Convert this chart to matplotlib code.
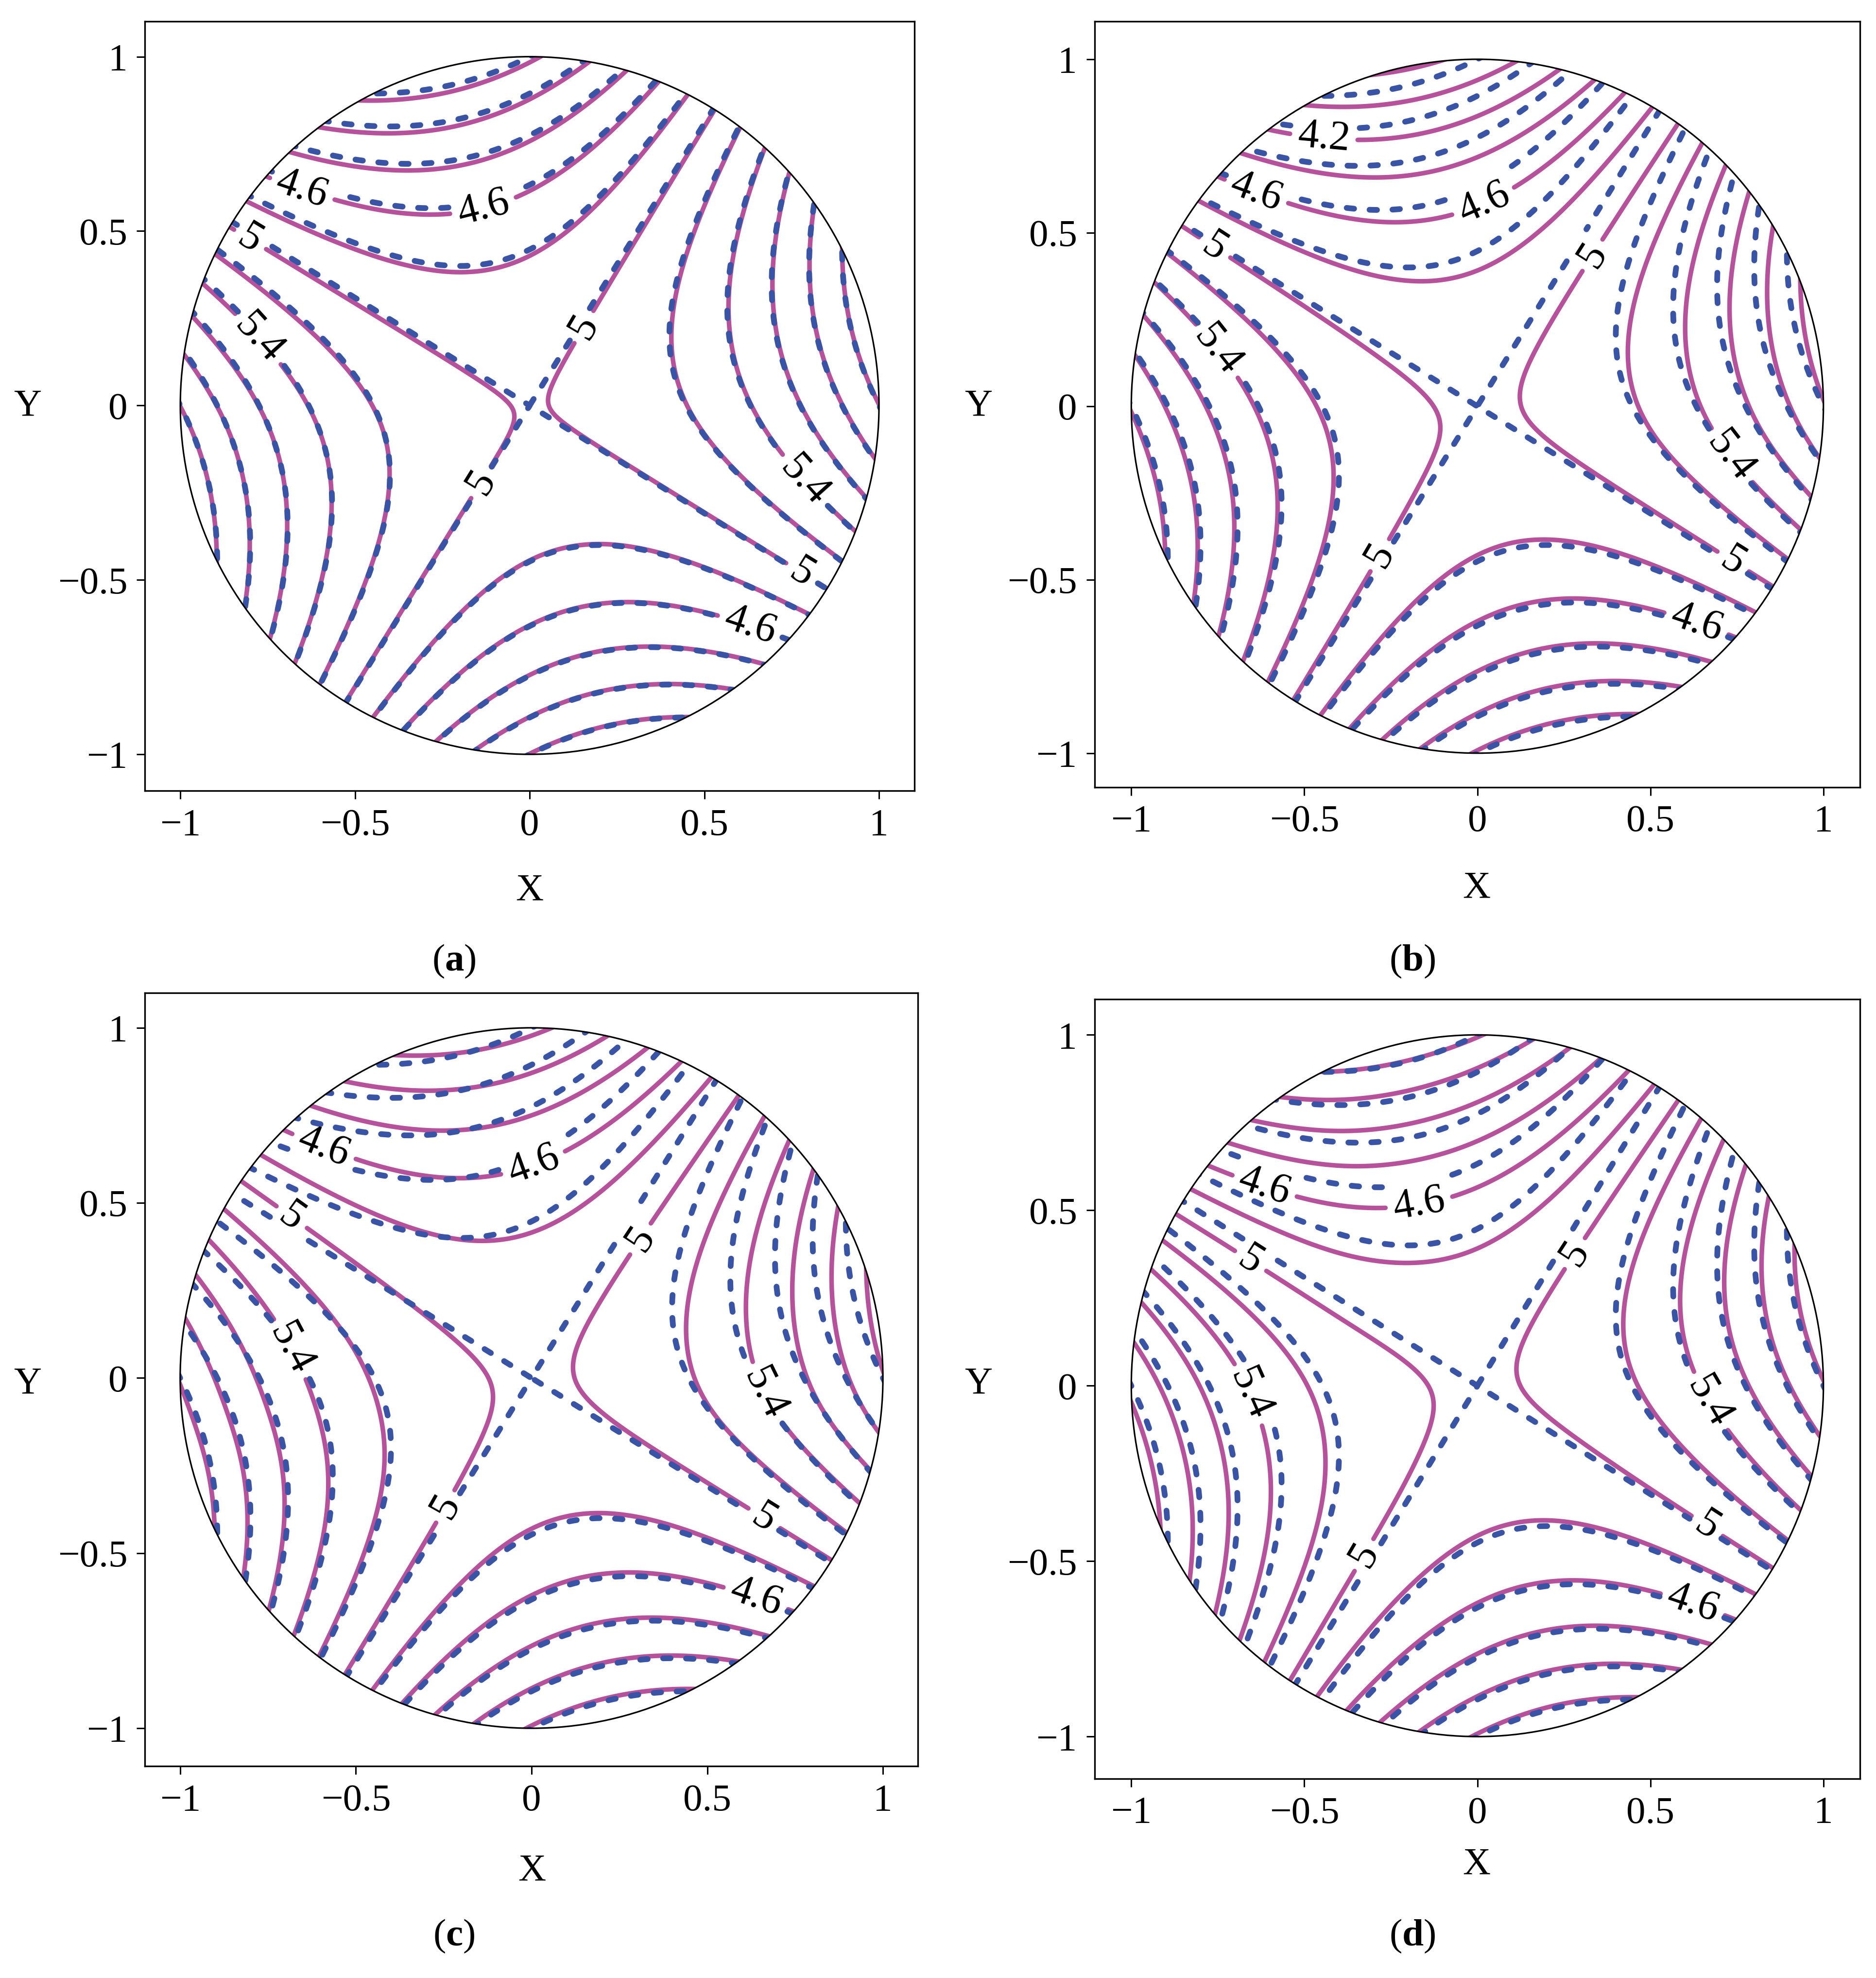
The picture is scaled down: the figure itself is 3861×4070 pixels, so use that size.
import numpy as np
import matplotlib
matplotlib.use('Agg')
import matplotlib.pyplot as plt
from matplotlib import font_manager
from matplotlib.patches import Circle

# make sure the Times-like face is really there (raises otherwise)
font_manager.findfont('Liberation Serif', fallback_to_default=False)

plt.rcParams['font.family'] = ['Liberation Serif', 'DejaVu Serif']
plt.rcParams['mathtext.fontset'] = 'custom'
plt.rcParams['mathtext.rm'] = 'Liberation Serif'
plt.rcParams['mathtext.bf'] = 'Liberation Serif:bold'

# ---- data ----
levels = [3.6, 3.8, 4.0, 4.2, 4.4, 4.6, 4.8, 5.0, 5.2, 5.4, 5.6, 5.8, 6.0, 6.2, 6.4]
label_levels = [4.2, 4.6, 5.0, 5.4]
ticks = [-1, -0.5, 0, 0.5, 1]
tick_labels = ['\u22121', '\u22120.5', '0', '0.5', '1']
captions = ['a', 'b', 'c', 'd']

# dashed (reference) field: f = f0 + a*x^2 + b*x*y + c*y^2
ref_coef = [5.0, 1.0, 1.0, -1.0]
# solid field = dashed field + d0 + s(y)*(py*y + pxy*x*y + pyy*y^2) + pleft*t(x)
# columns: d0, py, pxy, pyy, pleft
approx_a = [-0.003, -0.03, 0.04, 0.0, 0.0]
approx_b = [-0.016, -0.06, -0.10, -0.05, 0.0]
approx_c = [-0.015, -0.03, -0.28, 0.0, 0.0]
approx_d = [-0.015, 0.0, 0.0, -0.20, -0.03]
approx = [approx_a, approx_b, approx_c, approx_d]

# contour label spots
lab_a = [(-0.657, 0.603), (-0.135, 0.579), (-0.81, 0.46), (0.152, 0.227), (-0.139, -0.22),
         (-0.80, 0.17), (0.79, -0.213), (0.78, -0.48), (0.627, -0.645)]
lab_b = [(-0.443, 0.783), (-0.636, 0.626), (0.014, 0.597), (-0.757, 0.461), (0.314, 0.447),
         (-0.75, 0.161), (-0.279, -0.431), (0.721, -0.153), (0.736, -0.453), (0.629, -0.639)]
lab_c = [(-0.589, 0.665), (0.004, 0.615), (-0.677, 0.467), (0.301, 0.403), (-0.695, 0.078),
         (0.683, -0.035), (-0.243, -0.368), (0.661, -0.403), (0.633, -0.644)]
lab_d = [(-0.62, 0.554), (-0.178, 0.576), (-0.67, 0.333), (0.228, 0.411), (-0.691, -0.039),
         (0.67, -0.046), (-0.316, -0.489), (0.662, -0.403), (0.62, -0.631)]
label_pos = [lab_a, lab_b, lab_c, lab_d]

# ---- layout ----
W, H = 1488.0, 1568.0
frames = [(115, 17, 725, 627), (868, 17, 1475, 624), (115, 787, 728, 1400), (868, 792, 1475, 1410)]
xlims = [(-1.101, 1.101), (-1.106, 1.106), (-1.10, 1.10), (-1.106, 1.106)]
ylims = [(-1.105, 1.101), (-1.098, 1.109), (-1.108, 1.10), (-1.12, 1.102)]
ylab_xy = [(22, 322), (776, 322), (22, 1097), (776, 1097)]
xlab_xy = [(420, 706), (1171, 704), (422, 1483), (1171, 1478)]
cap_xy = [(360, 762), (1120, 762), (360, 1535), (1120, 1535)]

MAGENTA = '#b5529b'
BLUE = '#3a54a5'
FS = 57
LW_M = 6.8
LW_B = 8.5
DASH = [(0, (1.3, 2.7))]

other_levels = [v for v in levels if v not in label_levels]

fig = plt.figure(figsize=(38.62, 40.70), dpi=100)

g = np.linspace(-1.08, 1.08, 541)
X, Y = np.meshgrid(g, g)
f0, a, b, c = ref_coef
F_ref = f0 + a * X**2 + b * X * Y + c * Y**2
S_up = 1.0 / (1.0 + np.exp(-(Y + 0.1) / 0.08))     # upper half weight
S_left = 1.0 / (1.0 + np.exp((X + 0.3) / 0.1))     # left part weight


def draw_set(ax, F, lvls, color, lw, ls, z, circ):
    cs = ax.contour(X, Y, F, levels=lvls, colors=color, linewidths=lw,
                    linestyles=ls, zorder=z)
    cs.set_clip_path(circ)
    cs.set_capstyle('round')
    return cs


for i in range(4):
    l, t, r, bt = frames[i]
    ax = fig.add_axes([l / W, 1 - bt / H, (r - l) / W, (bt - t) / H])
    d0, py, pxy, pyy, pleft = approx[i]
    F_app = (F_ref + d0 + S_up * (py * Y + pxy * X * Y + pyy * Y**2)
             + pleft * S_left)

    circ = Circle((0, 0), 1.0, fill=False, ec='black', lw=2.3, zorder=5)
    ax.add_patch(circ)

    draw_set(ax, F_app, other_levels, MAGENTA, LW_M, 'solid', 2, circ)
    draw_set(ax, F_ref, other_levels, BLUE, LW_B, DASH, 3, circ)
    cs1 = draw_set(ax, F_app, label_levels, MAGENTA, LW_M, 'solid', 2, circ)
    cs2 = draw_set(ax, F_ref, label_levels, BLUE, LW_B, DASH, 3, circ)

    pos = label_pos[i]
    ax.clabel(cs1, manual=pos, fmt='%g', fontsize=62,
              inline=True, inline_spacing=18, colors='black')
    txt2 = ax.clabel(cs2, manual=pos, fmt='%g', fontsize=62,
                     inline=True, inline_spacing=18)
    for tx in txt2:
        tx.set_visible(False)

    ax.set_xlim(*xlims[i])
    ax.set_ylim(*ylims[i])
    ax.set_xticks(ticks)
    ax.set_xticklabels(tick_labels)
    ax.set_yticks(ticks)
    ax.set_yticklabels(tick_labels)
    ax.tick_params(direction='out', length=12, width=2.2, labelsize=FS, pad=14)
    for s in ax.spines.values():
        s.set_linewidth(2.4)

    fig.text(ylab_xy[i][0] / W, 1 - ylab_xy[i][1] / H, 'Y', fontsize=FS,
             ha='center', va='center')
    fig.text(xlab_xy[i][0] / W, 1 - xlab_xy[i][1] / H, 'X', fontsize=FS,
             ha='center', va='center')
    fig.text(cap_xy[i][0] / W, 1 - cap_xy[i][1] / H,
             '(' + r'$\mathbf{' + captions[i] + '}$' + ')', fontsize=FS,
             ha='center', va='center')

fig.savefig('out.png', dpi=100)
